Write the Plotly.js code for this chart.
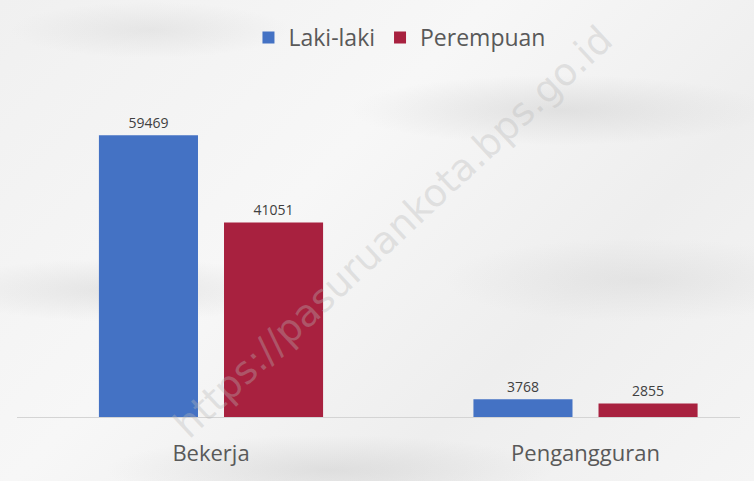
<!DOCTYPE html>
<html>
<head>
<meta charset="utf-8">
<script src="https://cdn.plot.ly/plotly-3.0.1.min.js"></script>
<style>
  html, body { margin: 0; padding: 0; }
  body {
    width: 754px; height: 481px; overflow: hidden;
    background:
      radial-gradient(ellipse 300px 50px at 560px 110px, rgba(190,190,190,0.35), rgba(255,255,255,0) 70%),
      radial-gradient(ellipse 260px 45px at 120px 290px, rgba(195,195,195,0.35), rgba(255,255,255,0) 70%),
      radial-gradient(ellipse 280px 60px at 640px 280px, rgba(200,200,200,0.3), rgba(255,255,255,0) 70%),
      radial-gradient(ellipse 320px 50px at 330px 470px, rgba(190,190,190,0.35), rgba(255,255,255,0) 70%),
      radial-gradient(ellipse 200px 40px at 150px 30px, rgba(200,200,200,0.3), rgba(255,255,255,0) 70%),
      linear-gradient(135deg, #f0f0f0 0%, #f7f7f7 40%, #eeeeee 70%, #f5f5f5 100%);
  }
  #chart { width: 754px; height: 481px; }
</style>
</head>
<body>
<div id="chart"></div>
<script>
const categories = ["Bekerja", "Pengangguran"];
const lakiLaki = [59469, 3768];
const perempuan = [41051, 2855];
const seriesNames = ["Laki-laki", "Perempuan"];

const textFont = { family: "Open Sans, Noto Sans, sans-serif", size: 14, color: "#404040" };

const traces = [
  {
    type: "bar", name: seriesNames[0], x: categories, y: lakiLaki,
    marker: { color: "#4472C4" },
    text: lakiLaki.map(String), textposition: "outside", textfont: textFont,
    cliponaxis: false, hoverinfo: "none"
  },
  {
    type: "bar", name: seriesNames[1], x: categories, y: perempuan,
    marker: { color: "#A8213F" },
    text: perempuan.map(String), textposition: "outside", textfont: textFont,
    cliponaxis: false, hoverinfo: "none"
  }
];

const layout = {
  width: 754, height: 481,
  paper_bgcolor: "rgba(0,0,0,0)",
  plot_bgcolor: "rgba(0,0,0,0)",
  margin: { l: 17, r: 14, t: 109, b: 64, autoexpand: false },
  barmode: "group",
  bargap: 0.332,
  bargroupgap: 0.208,
  showlegend: true,
  legend: {
    orientation: "h", x: 0.529, xanchor: "center", xref: "paper",
    y: 1.232, yanchor: "middle",
    font: { family: "Open Sans, Noto Sans, sans-serif", size: 23, color: "#595959" },
    bgcolor: "rgba(0,0,0,0)", itemwidth: 30, traceorder: "normal"
  },
  xaxis: {
    type: "category",
    range: [-0.518, 1.4125],
    showline: true, linecolor: "#d4d4d4", linewidth: 1,
    showgrid: false, zeroline: false,
    ticks: "", ticklabelstandoff: 17,
    tickfont: { family: "Open Sans, Noto Sans, sans-serif", size: 22, color: "#595959" },
    fixedrange: true
  },
  yaxis: {
    range: [0, 65000],
    visible: false, showgrid: false, zeroline: false, fixedrange: true
  },
  annotations: [
    {
      text: "https://pasuruankota.bps.go.id",
      xref: "paper", yref: "paper", x: 0.52, y: 0.6,
      textangle: -43, showarrow: false,
      font: { family: "DejaVu Sans, sans-serif", size: 38, color: "rgba(185,185,185,0.35)" }
    }
  ],
  font: { family: "Open Sans, Noto Sans, sans-serif" }
};

Plotly.newPlot("chart", traces, layout, { displayModeBar: false, staticPlot: true });
</script>
</body>
</html>
